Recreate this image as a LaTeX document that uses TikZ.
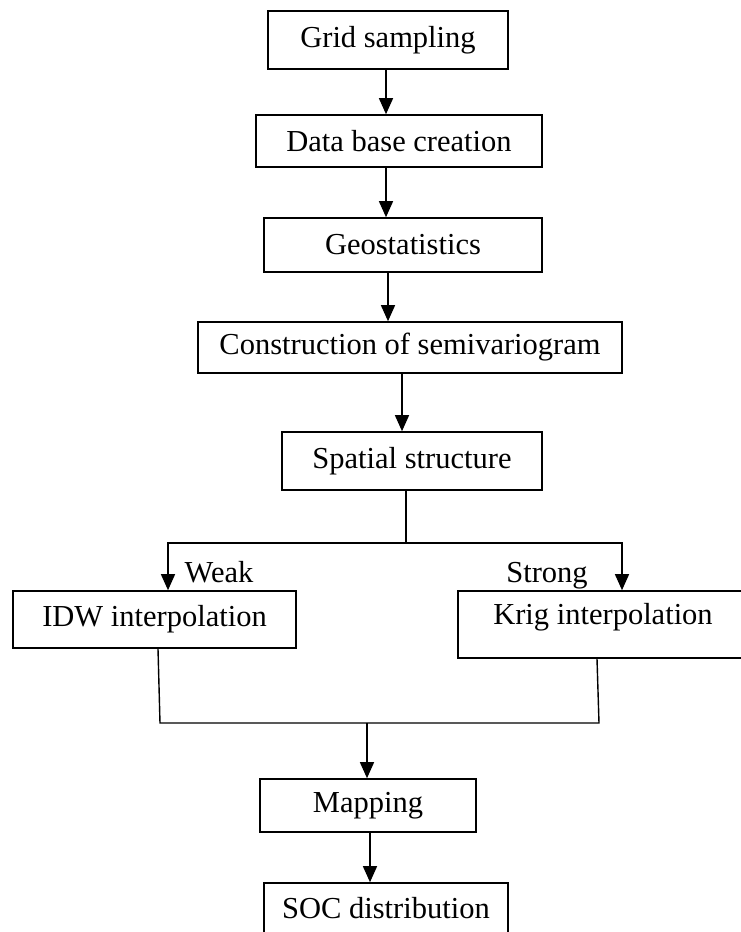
\documentclass[tikz,border=0pt]{standalone}
\usepackage{fontspec}
\setmainfont{Liberation Serif}
\usetikzlibrary{arrows.meta}
\begin{document}
\begin{tikzpicture}[x=1pt,y=-1pt,
  box/.style={draw=black,line width=1.6pt,rectangle,inner sep=0pt,align=center,
    font=\fontsize{30.5}{36}\selectfont},
  lbl/.style={inner sep=0pt,font=\fontsize{30.5}{36}\selectfont},
  conn/.style={line width=1.4pt,draw=black},
  arr/.style={conn,-{Triangle[width=14pt,length=16pt]}}]
\useasboundingbox[fill=white] (0,0) rectangle (740,932);
\node[box,minimum width=240pt,minimum height=58pt] (grid) at (388,40) {Grid sampling};
\node[box,minimum width=286pt,minimum height=52pt] (data) at (399,141) {Data base creation};
\node[box,minimum width=278pt,minimum height=54pt] (geo) at (403,245) {Geostatistics};
\node[box,minimum width=424pt,minimum height=51pt] (cons) at (410,347.5) {Construction of semivariogram};
\node[box,minimum width=260pt,minimum height=58pt] (spat) at (412,461) {Spatial structure};
\node[box,minimum width=283pt,minimum height=57pt] (idw) at (154.5,619.5) {IDW interpolation};
\node[box,minimum width=290pt,minimum height=67pt,text depth=21pt] (krig) at (603,624.5) {Krig interpolation};
\node[box,minimum width=216pt,minimum height=53pt] (map) at (368,805.5) {Mapping};
\node[box,minimum width=244pt,minimum height=50pt] (soc) at (386,908) {SOC distribution};
\node[lbl,anchor=base] (weak) at (219,582) {Weak};
\node[lbl,anchor=base] (strong) at (547,582) {Strong};
\draw[arr] ([xshift=-2pt]grid.south) -- ([xshift=-13pt]data.north);
\draw[arr] ([xshift=-13pt]data.south) -- ([xshift=-17pt]geo.north);
\draw[arr] ([xshift=-15pt]geo.south) -- ([xshift=-22pt]cons.north);
\draw[arr] ([xshift=-8pt]cons.south) -- ([xshift=-10pt]spat.north);
\coordinate (split) at (406,543);
\draw[conn] ([xshift=-6pt]spat.south) -- (split);
\draw[arr] (split) -| ([xshift=13.5pt]idw.north);
\draw[arr] (split) -| ([xshift=19pt]krig.north);
\coordinate (jl) at (160,723);
\coordinate (jr) at (599,723);
\coordinate (jm) at (367,723);
\draw[conn] ([xshift=3.5pt]idw.south) -- (jl) -- (jr) -- ([xshift=-6pt]krig.south);
\draw[arr] (jm) -- ([xshift=-1pt]map.north);
\draw[arr] ([xshift=2pt]map.south) -- ([xshift=-16pt]soc.north);
\end{tikzpicture}
\end{document}
